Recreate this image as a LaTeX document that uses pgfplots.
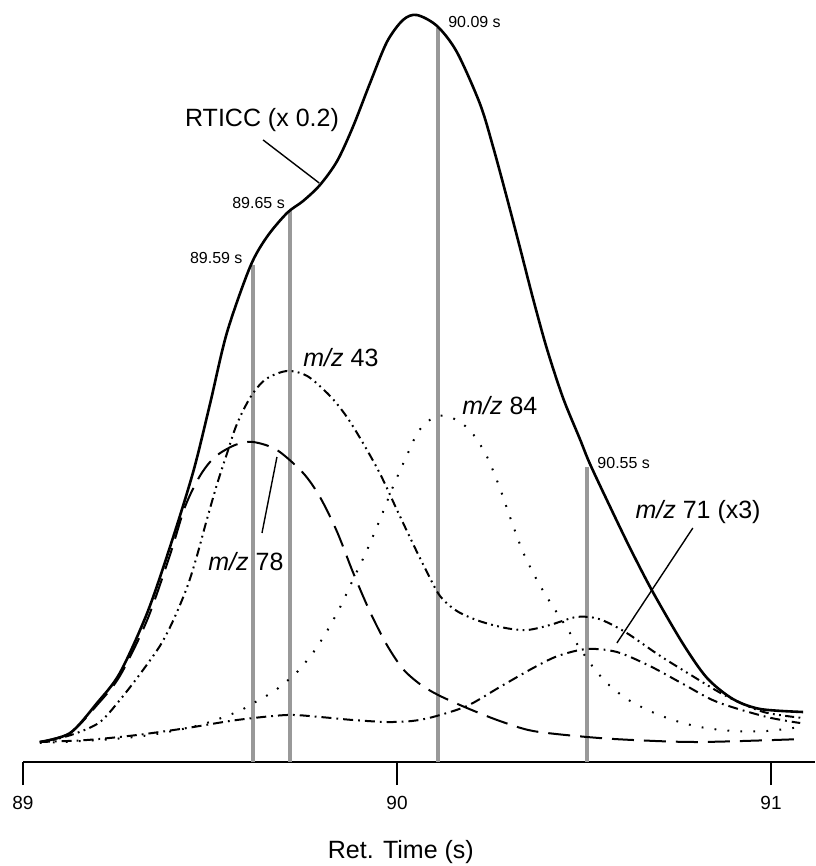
\documentclass[border=0pt]{standalone}
\usepackage{pgfplots}
\pgfplotsset{compat=1.18}
\usepackage{fontspec}
\setmainfont{Liberation Sans}
\definecolor{vgray}{gray}{0.6}
\begin{document}
\begin{tikzpicture}
\begin{axis}[
  x=187pt, y=0.5pt,
  xmin=89, xmax=91.118, ymin=0, ymax=762,
  axis x line=bottom, axis y line=none,
  axis line style={-, line width=1pt, black},
  xtick={89,90,91}, ytick=\empty,
  tick align=outside, major tick length=11.5pt,
  tick style={line width=1pt, black},
  /pgf/number format/assume math mode=true,
  xticklabel style={font=\fontsize{9.5}{11}\selectfont, yshift=-2pt},
  xlabel={Ret. Time (s)},
  xlabel style={font=\fontsize{12.5}{14}\selectfont, at={(axis description cs:0.477,-0.118)}, anchor=center},
  clip=false,
]
% vertical marker lines
\addplot[vgray, line width=2pt] coordinates {(89.615,0) (89.615,497)};
\addplot[vgray, line width=2pt] coordinates {(89.714,0) (89.714,552)};
\addplot[vgray, line width=2pt] coordinates {(90.110,0) (90.110,734)};
\addplot[vgray, line width=2pt] coordinates {(90.508,0) (90.508,295)};
% m/z 84 (dotted)
\addplot[black, line width=1pt, smooth, dash pattern=on 0.9pt off 5.6pt] coordinates {
(89.045,19) (89.206,22) (89.340,27) (89.473,37) (89.572,50) (89.607,57) (89.668,70)
(89.706,81) (89.733,90) (89.775,109) (89.813,131) (89.848,155) (89.882,182) (89.920,212)
(89.955,243) (89.989,275) (90.027,307) (90.060,332) (90.107,346) (90.160,342) (90.203,328)
(90.241,305) (90.275,274) (90.302,245) (90.337,210) (90.374,182) (90.409,160) (90.444,140)
(90.471,124) (90.516,99) (90.561,79) (90.615,63) (90.676,51) (90.738,42) (90.810,35)
(90.898,31) (90.989,31) (91.078,35)};
% m/z 71 x3 (dash-dot)
\addplot[black, line width=1pt, smooth, dash pattern=on 5pt off 2.5pt on 0.9pt off 2.5pt] coordinates {
(89.045,20) (89.171,22) (89.305,27) (89.439,34) (89.572,42) (89.706,47) (89.794,45)
(89.882,42) (89.973,40) (90.040,41) (90.096,45) (90.187,56) (90.275,75) (90.364,94)
(90.430,106) (90.508,113) (90.588,110) (90.676,96) (90.765,78) (90.856,60) (90.989,45) (91.078,39)};
% m/z 43 (dash-dot-dot)
\addplot[black, line width=1pt, smooth, dash pattern=on 4.5pt off 2.2pt on 0.9pt off 2.2pt on 0.9pt off 2.2pt] coordinates {
(89.045,20) (89.080,22) (89.144,29) (89.206,40) (89.259,62) (89.313,88) (89.366,116) (89.401,141)
(89.439,175) (89.465,206) (89.492,243) (89.519,278) (89.545,308) (89.572,338) (89.610,366)
(89.650,383) (89.706,391) (89.760,386) (89.821,366) (89.866,345) (89.909,319) (89.955,288)
(90.000,252) (90.043,218) (90.080,190) (90.115,166) (90.160,151) (90.220,141) (90.290,134)
(90.348,132) (90.409,137) (90.480,145) (90.540,143) (90.610,130) (90.700,107) (90.790,86)
(90.880,66) (90.980,50) (91.086,44)};
% m/z 78 (long dash)
\addplot[black, line width=1pt, smooth, dash pattern=on 11pt off 5pt] coordinates {
(89.045,20) (89.126,29) (89.198,57) (89.259,86) (89.332,142) (89.393,207) (89.433,255)
(89.473,286) (89.513,305) (89.567,317) (89.615,320) (89.679,312) (89.749,289) (89.794,265)
(89.840,230) (89.882,190) (89.928,150) (89.973,117) (90.016,93) (90.061,78) (90.110,67)
(90.187,54) (90.275,41) (90.364,31) (90.508,25) (90.631,22) (90.810,20) (91.086,23)};
% RTICC (solid)
\addplot[black, line width=1.3pt, smooth] coordinates {
(89.045,20) (89.126,29) (89.198,59) (89.259,89) (89.332,149) (89.393,215) (89.455,290)
(89.500,358) (89.545,429) (89.607,495) (89.652,525) (89.706,549) (89.749,561) (89.794,577)
(89.840,601) (89.882,635) (89.928,679) (89.973,720) (90.016,742) (90.053,747) (90.107,736)
(90.160,710) (90.222,658) (90.257,615) (90.294,564) (90.329,514) (90.364,463) (90.401,413)
(90.444,364) (90.489,323) (90.516,298) (90.570,255) (90.623,214) (90.684,170) (90.765,118)
(90.829,84) (90.898,63) (90.971,53) (91.086,50)};
% labels
\node[font=\fontsize{12.5}{14}\selectfont] at (axis cs:89.639,642) {RTICC (x 0.2)};
\draw[black, line width=0.7pt] (axis cs:89.642,622) -- (axis cs:89.792,579);
\node[font=\fontsize{12.5}{14}\selectfont] at (axis cs:89.850,404) {\textit{m/z} 43};
\node[font=\fontsize{12.5}{14}\selectfont] at (axis cs:90.275,356) {\textit{m/z} 84};
\node[font=\fontsize{12.5}{14}\selectfont] at (axis cs:89.596,200) {\textit{m/z} 78};
\draw[black, line width=0.7pt] (axis cs:89.639,229) -- (axis cs:89.679,305);
\node[font=\fontsize{12.5}{14}\selectfont] at (axis cs:90.805,250) {\textit{m/z} 71 (x3)};
\draw[black, line width=0.7pt] (axis cs:90.791,234) -- (axis cs:90.588,119);
\node[font=\fontsize{8}{9}\selectfont, anchor=east, inner sep=0pt] at (axis cs:89.588,504) {89.59 s};
\node[font=\fontsize{8}{9}\selectfont, anchor=east, inner sep=0pt] at (axis cs:89.701,559) {89.65 s};
\node[font=\fontsize{8}{9}\selectfont, anchor=west, inner sep=0pt] at (axis cs:90.136,740) {90.09 s};
\node[font=\fontsize{8}{9}\selectfont, anchor=west, inner sep=0pt] at (axis cs:90.535,299) {90.55 s};
\end{axis}
\pgfresetboundingbox
\path (current axis.south west) ++(-11.5pt,-52pt) rectangle (current axis.north east);
\end{tikzpicture}
\end{document}
